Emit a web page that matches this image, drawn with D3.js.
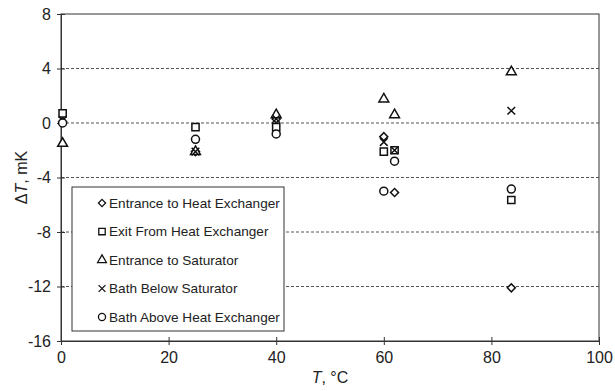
<!DOCTYPE html>
<html>
<head>
<meta charset="utf-8">
<script src="https://cdn.jsdelivr.net/npm/d3@7"></script>
<style>
  body { margin: 0; background: #fff; }
  svg { display: block; font-family: "Liberation Sans", Arial, sans-serif; }
</style>
</head>
<body>
<svg id="chart" width="615" height="391"></svg>
<script>
// Data
var temps = [0.3, 25, 40, 60, 62, 83.7];
var entranceHX = [0.1, -2.1, 0.3, -1.0, -5.1, -12.1];
var exitHX = [0.7, -0.3, -0.3, -2.1, -2.0, -5.65];
var entranceSat = [-1.5, -2.1, 0.6, 1.75, 0.6, 3.75];
var bathBelow = [0.2, -2.1, 0.3, -1.4, -2.0, 0.9];
var bathAbove = [0.0, -1.2, -0.8, -5.0, -2.8, -4.85];
var seriesNames = ['Entrance to Heat Exchanger', 'Exit From Heat Exchanger', 'Entrance to Saturator', 'Bath Below Saturator', 'Bath Above Heat Exchanger'];
var xTicks = [0, 20, 40, 60, 80, 100];
var yTicks = [-16, -12, -8, -4, 0, 4, 8];

var series = [
    {name: seriesNames[0], values: entranceHX, symbol: d3.symbolSquare, size: 32, rot: 45},
    {name: seriesNames[1], values: exitHX, symbol: d3.symbolSquare, size: 52, rot: 0},
    {name: seriesNames[2], values: entranceSat, symbol: d3.symbolTriangle, size: 42, rot: 0},
    {name: seriesNames[3], values: bathBelow, symbol: d3.symbolTimes, size: 40, rot: 0},
    {name: seriesNames[4], values: bathAbove, symbol: d3.symbolCircle, size: 50, rot: 0}
];

var svg = d3.select('#chart'),
    mLeft = 61, mRight = 599, mTop = 14, mBottom = 341;

var x = d3.scaleLinear().domain([0, 100]).range([mLeft, mRight]);
var y = d3.scaleLinear().domain([-16, 8]).range([mBottom, mTop]);

// Grid lines (dashed)
svg.selectAll('.grid')
    .data(yTicks.filter(function (d) { return d > -16 && d < 8; }))
    .enter().append('line')
    .attr('x1', mLeft).attr('x2', mRight)
    .attr('y1', function (d) { return y(d); })
    .attr('y2', function (d) { return y(d); })
    .attr('stroke', '#555')
    .attr('stroke-width', 1)
    .attr('stroke-dasharray', '3,2');

// Frame
svg.append('rect')
    .attr('x', mLeft).attr('y', mTop)
    .attr('width', mRight - mLeft).attr('height', mBottom - mTop)
    .attr('fill', 'none').attr('stroke', '#333').attr('stroke-width', 1);

// Axes (plain hyphen minus like the original)
var fmt = function (d) { return String(d); };
var yAxis = d3.axisLeft(y).tickValues(yTicks).tickFormat(fmt).tickSizeInner(4).tickSizeOuter(0).tickPadding(6);
var gy = svg.append('g').attr('transform', 'translate(' + mLeft + ',0)').call(yAxis);
var xAxis = d3.axisBottom(x).tickValues(xTicks).tickFormat(fmt).tickSizeInner(4).tickSizeOuter(0).tickPadding(7);
var gx = svg.append('g').attr('transform', 'translate(0,' + mBottom + ')').call(xAxis);

[gy, gx].forEach(function (g) {
    g.select('.domain').attr('stroke', '#333');
    g.selectAll('.tick line').attr('stroke', '#333');
    g.selectAll('.tick text').attr('font-size', 16).attr('fill', '#222')
        .attr('font-family', '"Liberation Sans", Arial, sans-serif');
});
// crossing ticks
gy.selectAll('.tick line').attr('x1', 4);
gx.selectAll('.tick line').attr('y1', -4);

// Axis titles
svg.append('text')
    .attr('transform', 'translate(27,' + ((mTop + mBottom) / 2) + ') rotate(-90)')
    .attr('text-anchor', 'middle')
    .attr('font-size', 16).attr('fill', '#222')
    .html('\u0394<tspan font-style="italic">T</tspan>, mK');

svg.append('text')
    .attr('x', (mLeft + mRight) / 2).attr('y', 383)
    .attr('text-anchor', 'middle')
    .attr('font-size', 16).attr('fill', '#222')
    .html('<tspan font-style="italic">T</tspan>, \u00B0C');

// Points
series.forEach(function (s) {
    var sym = d3.symbol().type(s.symbol).size(s.size);
    svg.append('g').selectAll('path')
        .data(s.values)
        .enter().append('path')
        .attr('d', sym)
        .attr('transform', function (d, i) {
            return 'translate(' + x(temps[i]) + ',' + y(d) + ') rotate(' + s.rot + ')';
        })
        .attr('fill', '#fff')
        .attr('stroke', '#111')
        .attr('stroke-width', 1.5);
});

// Legend
var legend = svg.append('g');
legend.append('rect')
    .attr('x', 72).attr('y', 187).attr('width', 212).attr('height', 144)
    .attr('fill', '#fff').attr('stroke', '#333').attr('stroke-width', 1);

var items = legend.selectAll('.item')
    .data(series)
    .enter().append('g')
    .attr('transform', function (d, i) { return 'translate(102,' + (203 + i * 28.5) + ')'; });

items.append('path')
    .attr('d', function (d) { return d3.symbol().type(d.symbol).size(d.size * 0.8)(); })
    .attr('transform', function (d) { return 'rotate(' + d.rot + ')'; })
    .attr('fill', '#fff').attr('stroke', '#111').attr('stroke-width', 1.3);

items.append('text')
    .attr('x', 7).attr('y', 4.5)
    .attr('font-size', 13.6).attr('fill', '#222')
    .text(function (d) { return d.name; });
</script>
</body>
</html>
